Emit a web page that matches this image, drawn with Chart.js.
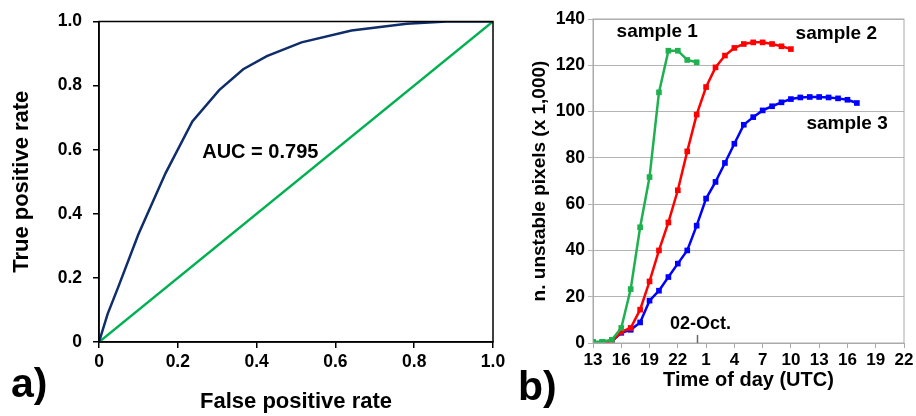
<!DOCTYPE html>
<html>
<head>
<meta charset="utf-8">
<script src="https://cdn.jsdelivr.net/npm/chart.js@4.4.1/dist/chart.umd.min.js"></script>
<style>
  html, body { margin: 0; padding: 0; background: #fff; }
  #wrap { position: relative; width: 916px; height: 416px; overflow: hidden; }
  .panel { position: absolute; top: 0; height: 416px; }
  #panelA { left: 0; width: 520px; }
  #panelB { left: 500px; width: 416px; }
</style>
</head>
<body>
<div id="wrap">
  <div class="panel" id="panelA"><canvas id="roc"></canvas></div>
  <div class="panel" id="panelB"><canvas id="unstable"></canvas></div>
</div>
<script>
// ROC curve (panel a)
const fpr = [0, 0.022, 0.049, 0.10, 0.169, 0.237, 0.305, 0.366, 0.426, 0.514, 0.641, 0.781, 0.882, 1.0];
const tpr = [0, 0.088, 0.172, 0.336, 0.527, 0.688, 0.786, 0.851, 0.892, 0.935, 0.972, 0.993, 1.0, 1.0];
const chanceLine = [0, 1];
const aucText = "AUC = 0.795";

// Unstable pixels per hour (panel b), hours counted from 13 UTC
const hourOffsets = [0, 1, 2, 3, 4, 5, 6, 7, 8, 9, 10, 11, 12, 13, 14, 15, 16, 17, 18, 19, 20, 21, 22, 23, 24, 25, 26, 27, 28];
const sample1 = [0.5, 0.5, 1.4, 6.5, 23.3, 50.0, 71.7, 108.3, 126.3, 126.3, 122.3, 121.3];
const sample2 = [0.3, 0.3, 0.7, 4.8, 6.5, 14.4, 26.6, 40.0, 52.1, 66.0, 82.8, 98.7, 110.6, 119.1, 124.2, 127.5, 129.2, 129.9, 129.9, 129.2, 128.2, 127.0];
const sample3 = [0.3, 0.3, 0.7, 4.4, 5.7, 8.9, 18.3, 22.6, 28.5, 34.3, 40.0, 50.7, 62.4, 69.6, 77.8, 86.1, 94.3, 97.6, 100.5, 102.3, 104.0, 105.4, 106.1, 106.3, 106.3, 106.1, 105.7, 105.1, 103.7];
const startHour = 13;
const midnightOffset = 11;
const dayLabel = "02-Oct.";
const sampleNames = ["sample 1", "sample 2", "sample 3"];

const FONT = "'Liberation Sans', Arial, sans-serif";

const points = (xs, ys) => ys.map((y, i) => ({ x: xs[i], y }));

// box around the plotting area
const frame = (color, width) => ({
  id: "frame",
  afterDraw(chart) {
    const { ctx, chartArea: a } = chart;
    ctx.save();
    ctx.strokeStyle = color;
    ctx.lineWidth = width;
    ctx.strokeRect(a.left, a.top, a.right - a.left, a.bottom - a.top);
    ctx.restore();
  },
});

// text labels placed in data coordinates
const dataLabels = (items) => ({
  id: "dataLabels",
  afterDatasetsDraw(chart) {
    const { ctx, scales } = chart;
    ctx.save();
    ctx.fillStyle = "#000";
    ctx.textBaseline = "alphabetic";
    items.forEach((it) => {
      ctx.font = `bold ${it.size}px ${FONT}`;
      ctx.textAlign = it.align || "left";
      ctx.fillText(it.text, scales.x.getPixelForValue(it.x), scales.y.getPixelForValue(it.y));
    });
    ctx.restore();
  },
});

// panel letter in the lower-left corner
const panelLetter = (text, x, y) => ({
  id: "panelLetter",
  afterDraw(chart) {
    const { ctx } = chart;
    ctx.save();
    ctx.fillStyle = "#000";
    ctx.font = `bold 41px ${FONT}`;
    ctx.textBaseline = "alphabetic";
    ctx.fillText(text, x, y);
    ctx.restore();
  },
});

// small marker for the date change on the time axis
const dayMarker = {
  id: "dayMarker",
  afterDraw(chart) {
    const { ctx, scales, chartArea } = chart;
    const x = Math.round(scales.x.getPixelForValue(midnightOffset)) + 0.5;
    ctx.save();
    ctx.strokeStyle = "#666";
    ctx.lineWidth = 1.5;
    ctx.beginPath();
    ctx.moveTo(x, chartArea.bottom - 8);
    ctx.lineTo(x, chartArea.bottom);
    ctx.stroke();
    ctx.fillStyle = "#000";
    ctx.font = `bold 18px ${FONT}`;
    ctx.textAlign = "center";
    ctx.textBaseline = "alphabetic";
    ctx.fillText(dayLabel, x + 3, chartArea.bottom - 14);
    ctx.restore();
  },
};

new Chart(document.getElementById("roc"), {
  type: "line",
  data: {
    datasets: [
      {
        data: points(fpr, tpr),
        borderColor: "#0f2d6b",
        borderWidth: 2.5,
        pointRadius: 0,
        tension: 0,
      },
      {
        data: points(chanceLine, chanceLine),
        borderColor: "#00b050",
        borderWidth: 2.5,
        pointRadius: 0,
      },
    ],
  },
  options: {
    responsive: true,
    maintainAspectRatio: false,
    animation: false,
    layout: { padding: { top: 18, right: 27, left: 0, bottom: 0 } },
    plugins: { legend: { display: false }, tooltip: { enabled: false } },
    scales: {
      x: {
        type: "linear",
        min: 0,
        max: 1,
        afterFit: (s) => { s.height = 74; },
        ticks: {
          stepSize: 0.2,
          padding: 4,
          color: "#000",
          font: { family: FONT, size: 17.5, weight: "bold" },
          callback: (v) => (v === 0 ? "0" : v.toFixed(1)),
        },
        grid: { drawOnChartArea: false, tickLength: 6, color: "#000", lineWidth: 1.5 },
        border: { color: "#000", width: 1.5 },
        title: {
          display: true,
          text: "False positive rate",
          color: "#000",
          font: { family: FONT, size: 22, weight: "bold" },
          padding: { top: 0, bottom: 1 },
        },
      },
      y: {
        type: "linear",
        min: 0,
        max: 1,
        afterFit: (s) => { s.width = 99; },
        ticks: {
          stepSize: 0.2,
          padding: 11,
          color: "#000",
          font: { family: FONT, size: 17.5, weight: "bold" },
          callback: (v) => (v === 0 ? "0" : v.toFixed(1)),
        },
        grid: { drawOnChartArea: false, tickLength: 6, color: "#000", lineWidth: 1.5 },
        border: { color: "#000", width: 1.5 },
        title: {
          display: true,
          text: "True positive rate",
          color: "#000",
          font: { family: FONT, size: 22, weight: "bold" },
          padding: { top: 9, bottom: 0 },
        },
      },
    },
  },
  plugins: [
    frame("#000", 1.5),
    dataLabels([{ text: aucText, x: 0.262, y: 0.575, size: 20 }]),
    panelLetter("a)", 11, 397),
  ],
});

new Chart(document.getElementById("unstable"), {
  type: "line",
  data: {
    datasets: [
      { label: sampleNames[0], data: points(hourOffsets, sample1), borderColor: "#1fb050", backgroundColor: "#1fb050" },
      { label: sampleNames[1], data: points(hourOffsets, sample2), borderColor: "#ff0000", backgroundColor: "#ff0000" },
      { label: sampleNames[2], data: points(hourOffsets, sample3), borderColor: "#0000ff", backgroundColor: "#0000ff" },
    ].map((d) => Object.assign(d, {
      borderWidth: 2.5,
      pointStyle: "rect",
      pointRadius: 4,
      pointBorderWidth: 0,
      tension: 0,
    })),
  },
  options: {
    responsive: true,
    maintainAspectRatio: false,
    animation: false,
    layout: { padding: { top: 19, right: 12, left: 0, bottom: 0 } },
    plugins: { legend: { display: false }, tooltip: { enabled: false } },
    scales: {
      x: {
        type: "linear",
        min: 0,
        max: 33,
        afterFit: (s) => { s.height = 73; },
        ticks: {
          stepSize: 3,
          padding: 2,
          color: "#000",
          font: { family: FONT, size: 17, weight: "bold" },
          callback: (v) => String((startHour + v) % 24),
        },
        grid: { drawOnChartArea: false, tickLength: 5, color: "#aaa" },
        border: { color: "#aaa", width: 1 },
        title: {
          display: true,
          text: "Time of day (UTC)",
          color: "#000",
          font: { family: FONT, size: 20, weight: "bold" },
          padding: { top: 0, bottom: 24 },
        },
      },
      y: {
        type: "linear",
        min: 0,
        max: 140,
        afterFit: (s) => { s.width = 93; },
        ticks: {
          stepSize: 20,
          padding: 3,
          color: "#000",
          font: { family: FONT, size: 17.5, weight: "bold" },
        },
        grid: { color: "#b4b4b4", tickLength: 5 },
        border: { color: "#aaa", width: 1 },
        title: {
          display: true,
          text: "n. unstable pixels (x 1,000)",
          color: "#000",
          font: { family: FONT, size: 19, weight: "bold" },
          padding: { top: 28, bottom: 0 },
        },
      },
    },
  },
  plugins: [
    frame("#aaa", 1),
    dayMarker,
    dataLabels([
      { text: sampleNames[0], x: 2.5, y: 132.4, size: 19 },
      { text: sampleNames[1], x: 21.5, y: 131.3, size: 19 },
      { text: sampleNames[2], x: 22.65, y: 92.4, size: 19 },
    ]),
    panelLetter("b)", 18, 400),
  ],
});
</script>
</body>
</html>
